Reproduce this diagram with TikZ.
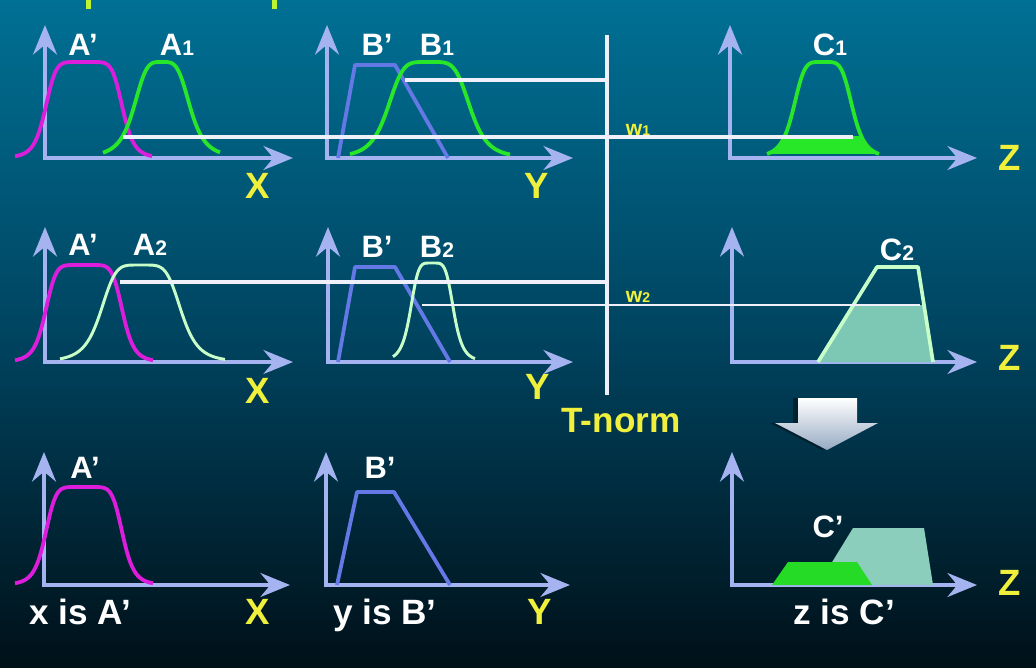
\documentclass[tikz,border=0pt]{standalone}
\usepackage{fontspec}
\setmainfont{Liberation Sans}
\usetikzlibrary{arrows.meta}
\definecolor{axisc}{RGB}{165,180,240}
\definecolor{mag}{RGB}{220,30,220}
\definecolor{grn}{RGB}{40,230,40}
\definecolor{pale}{RGB}{200,255,200}
\definecolor{bblue}{RGB}{100,120,230}
\definecolor{teal2}{RGB}{125,200,180}
\definecolor{ylw}{RGB}{240,240,60}
\definecolor{wline}{RGB}{240,240,250}
\definecolor{bgtop}{RGB}{0,112,148}
\definecolor{bgmid}{RGB}{0,68,96}
\definecolor{bgbot}{RGB}{0,16,24}
\definecolor{arrbot}{RGB}{150,170,195}
\newcommand{\sbs}[1]{{\fontsize{15}{15}\selectfont #1}}
\newcommand{\wsb}[1]{{\fontsize{10}{10}\selectfont #1}}
\begin{document}
\begin{tikzpicture}[x=0.025cm,y=-0.025cm,
  axis/.style={draw=axisc, line width=2.8pt,
    {Stealth[length=21pt,width=17pt,inset=7pt]}-{Stealth[length=21pt,width=17pt,inset=7pt]}},
  crv/.style={line width=2.7pt, line join=round},
  pcrv/.style={line width=2.1pt, line join=round, draw=pale},
  wl/.style={draw=wline, line width=2.3pt},
  lbl/.style={text=white, font=\fontsize{22}{24}\selectfont\bfseries, inner sep=0pt},
  axl/.style={text=ylw, font=\fontsize{26}{28}\selectfont\bfseries, inner sep=0pt},
  wlab/.style={text=ylw, font=\fontsize{15}{15}\selectfont\bfseries, inner sep=0pt},
  txt/.style={text=white, font=\fontsize{25}{27}\selectfont\bfseries, inner sep=0pt, anchor=base}]
% background
\shade[top color=bgtop, bottom color=bgbot, middle color=bgmid] (0,0) rectangle (1036,668);
\useasboundingbox (0,0) rectangle (1036,668);
\fill[ylw!80!green] (86,0) rectangle (91,9);
\fill[ylw!80!green] (272,0) rectangle (277,9);

% ---------- Row 1 ----------
\draw[axis] (45,25) -- (45,158) -- (293,158);
\draw[axis] (327,25) -- (327,158) -- (573,158);
\draw[axis] (730,25) -- (730,158) -- (977,158);
\draw[crv, mag] plot[domain=15:152, samples=90] (\x,{158-96/(1+abs((\x-84)/39)^7)});
\draw[crv, grn] plot[domain=103:220, samples=90] (\x,{158-96/(1+abs((\x-162)/29)^4)});
\draw[crv, bblue] (338,158) -- (355,65) -- (395,65) -- (448,158);
\draw[crv, grn] plot[domain=350:510, samples=90] (\x,{158-96/(1+abs((\x-429)/42)^5)});
\begin{scope}
  \clip (700,137) rectangle (1000,158);
  \fill[grn] plot[domain=767:879, samples=90] (\x,{158-96/(1+abs((\x-823)/30)^5)}) -- cycle;
\end{scope}
\draw[crv, grn] plot[domain=767:879, samples=90] (\x,{158-96/(1+abs((\x-823)/30)^5)});

% ---------- Row 2 ----------
\draw[axis] (45,227) -- (45,362) -- (293,362);
\draw[axis] (328,227) -- (328,362) -- (573,362);
\draw[axis] (732,227) -- (732,362) -- (977,362);
\draw[crv, mag] plot[domain=15:153, samples=90] (\x,{362-97/(1+abs((\x-84)/39)^7)});
\draw[pcrv] plot[domain=60:225, samples=90] (\x,{362-97/(1+abs((\x-141)/41)^5)});
\draw[crv, bblue] (338,362) -- (355,267) -- (395,267) -- (450,362);
\draw[pcrv] plot[domain=393:475, samples=90] (\x,{362-99/(1+abs((\x-432)/22)^5)});
\begin{scope}
  \clip (700,305) rectangle (1000,362);
  \fill[teal2] (818,362) -- (877,267) -- (918,267) -- (933,362) -- cycle;
\end{scope}
\draw[pcrv, line width=2.6pt] (818,362) -- (877,267) -- (918,267) -- (933,362);

% ---------- T-norm and w lines ----------
\coordinate (tn1) at (607,35);
\coordinate (tn2) at (607,395);
\coordinate (a1s) at (123,137);
\coordinate (c1e) at (853,137);
\coordinate (b1s) at (405,80);
\coordinate (a2s) at (120,282);
\coordinate (b2s) at (422,305);
\coordinate (c2e) at (920,305);
\draw[wl] (tn1) -- (tn2);
\draw[wl] (a1s) -- (c1e);
\draw[wl] (b1s) -- (b1s -| tn1);
\draw[wl] (a2s) -- (a2s -| tn1);
\draw[wl, line width=1.9pt] (b2s) -- (c2e);
\node[wlab] (w1) at (638,130) {w\wsb{1}};
\node[wlab] (w2) at (638,297) {w\wsb{2}};
\node[axl, font=\fontsize{25}{27}\selectfont\bfseries] (tnorm) at (621,421) {T-norm};

% down arrow
\fill[black, opacity=0.4] (793,398) -- (852,398) -- (852,423) -- (873,423) -- (822,450) -- (770,423) -- (793,423) -- cycle;
\shade[top color=white, bottom color=arrbot] (798,398) -- (857,398) -- (857,423) -- (878,423) -- (827,450) -- (775,423) -- (798,423) -- cycle;

% ---------- Row 3 ----------
\draw[axis] (44,452) -- (44,585) -- (290,585);
\draw[axis] (326,452) -- (326,585) -- (570,585);
\draw[axis] (732,452) -- (732,585) -- (977,585);
\draw[crv, mag] plot[domain=15:153, samples=90] (\x,{585-98/(1+abs((\x-84)/39)^7)});
\draw[crv, bblue] (337,585) -- (357,492) -- (394,492) -- (450,585);
\fill[teal2!90!white] (818,585) -- (853,528) -- (924,528) -- (933,585) -- cycle;
\fill[grn!95!black] (772,585) -- (788,562) -- (857,562) -- (872,585) -- cycle;

% ---------- labels ----------
\node[lbl] (la1p) at (83,45) {A'};
\node[lbl] (la1) at (177,45) {A\sbs{1}};
\node[lbl] (lb1p) at (377,45) {B'};
\node[lbl] (lb1) at (437,45) {B\sbs{1}};
\node[lbl] (lc1) at (830,45) {C\sbs{1}};
\node[axl] (x1) at (258,186) {X};
\node[axl] (y1) at (537,186) {Y};
\node[axl] (z1) at (1010,158) {Z};

\node[lbl] (la2p) at (83,245) {A'};
\node[lbl] (la2) at (150,245) {A\sbs{2}};
\node[lbl] (lb2p) at (377,247) {B'};
\node[lbl] (lb2) at (437,247) {B\sbs{2}};
\node[lbl] (lc2) at (897,250) {C\sbs{2}};
\node[axl] (x2) at (258,391) {X};
\node[axl] (y2) at (538,387) {Y};
\node[axl] (z2) at (1010,358) {Z};

\node[lbl] (la3) at (85,468) {A'};
\node[lbl] (lb3) at (380,468) {B'};
\node[lbl] (lc3) at (828,527) {C'};
\node[txt] (t1) at (80,624) {x is A'};
\node[txt] (t2) at (385,624) {y is B'};
\node[txt] (t3) at (844,624) {z is C'};
\node[axl] (x3) at (258,612) {X};
\node[axl] (y3) at (540,612) {Y};
\node[axl] (z3) at (1010,583) {Z};
\end{tikzpicture}
\end{document}
